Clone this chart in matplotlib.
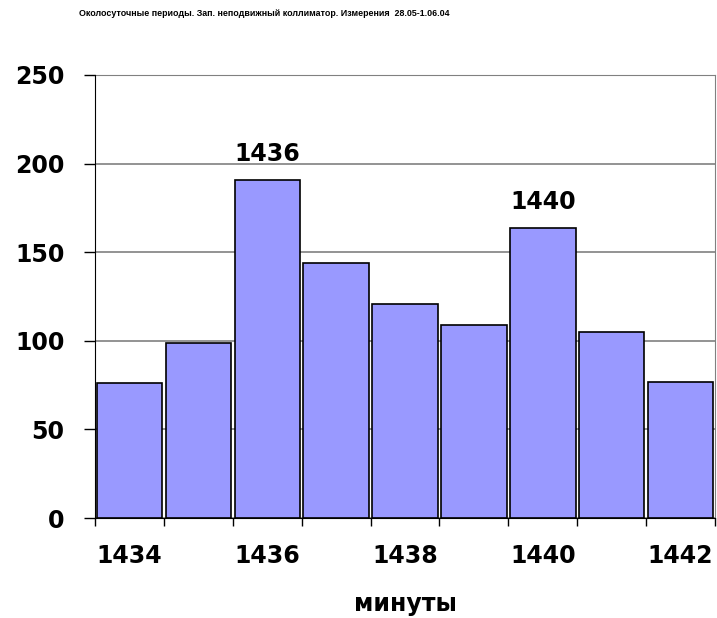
import numpy as np
import matplotlib
matplotlib.use("Agg")
import matplotlib.pyplot as plt
from matplotlib.ticker import FixedLocator, NullFormatter

# === Data ===
minutes = [1434, 1435, 1436, 1437, 1438, 1439, 1440, 1441, 1442]
counts = [76, 99, 191, 144, 121, 109, 163.5, 105, 77]
tick_labels = ["1434", "1436", "1438", "1440", "1442"]
peak_labels = ["1436", "1440"]

title = "Околосуточные периоды. Зап. неподвижный коллиматор. Измерения  28.05-1.06.04"
xlabel = "минуты"

plt.rcParams['font.family'] = ['DejaVu Sans']

fig = plt.figure(figsize=(7.17, 6.18), dpi=100)
ax = fig.add_axes([95 / 717, 1 - 518 / 618, 620 / 717, 443 / 618])

x = np.arange(len(minutes))
ax.bar(x, counts, width=0.95, color='#9999FF', edgecolor='black', linewidth=1.2, zorder=3)

ax.set_xlim(-0.5, len(minutes) - 0.5)
ax.set_ylim(0, 250)

# === Y axis ===
ax.set_yticks([0, 50, 100, 150, 200, 250])
ax.tick_params(axis='y', direction='out', length=8, width=1, pad=14, labelsize=17)
for lab in ax.get_yticklabels():
    lab.set_fontweight('bold')
ax.grid(axis='y', color='#808080', linewidth=1.2, zorder=0)

# === X axis: labels on every other bar, ticks at the boundaries ===
label_pos = [minutes.index(int(t)) for t in tick_labels]
ax.set_xticks(label_pos)
ax.set_xticklabels(tick_labels, fontsize=17, fontweight='bold')
ax.tick_params(axis='x', which='major', length=0, pad=19)
ax.xaxis.set_minor_locator(FixedLocator(np.arange(-0.5, len(minutes), 1.0)))
ax.xaxis.set_minor_formatter(NullFormatter())
ax.tick_params(axis='x', which='minor', direction='out', length=6, width=1)

ax.spines['left'].set_color('black')
ax.spines['bottom'].set_color('black')
ax.spines['right'].set_color('#808080')
ax.spines['top'].set_color('#808080')
ax.spines['left'].set_zorder(4)
ax.spines['bottom'].set_zorder(4)

# === Peak labels ===
for lbl in peak_labels:
    i = minutes.index(int(lbl))
    ax.annotate(lbl, (x[i], counts[i]), xytext=(0, 10), textcoords='offset points',
                ha='center', va='bottom', fontsize=17, fontweight='bold')

ax.set_xlabel(xlabel, fontsize=17, fontweight='bold', va='center')
ax.xaxis.set_label_coords(0.5, (518 - 604) / 443)

fig.text(264 / 717, 1 - 14 / 618, title, ha='center', va='center',
         fontsize=6.4, fontweight='bold', family=['Liberation Sans', 'DejaVu Sans'])

fig.savefig("out.png", dpi=100)
